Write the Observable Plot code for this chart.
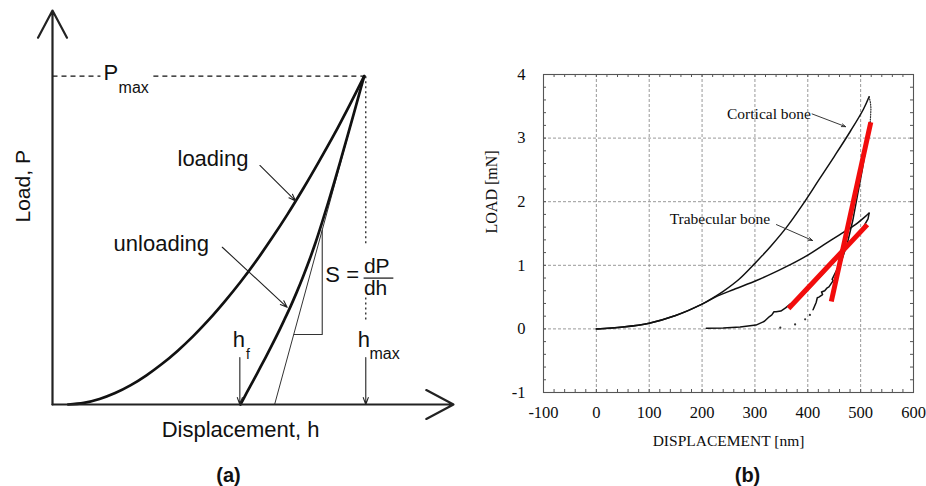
<!DOCTYPE html>
<html><head><meta charset="utf-8">
<script src="https://cdn.jsdelivr.net/npm/d3@7"></script>
<script src="https://cdn.jsdelivr.net/npm/@observablehq/plot@0.6"></script>
<style>
html,body{margin:0;padding:0;background:#fff;}
#fig{width:926px;height:486px;display:flex;background:#fff;}
#fig svg{display:block;overflow:visible;}
</style></head><body><div id="fig"></div>
<script>
// ---------- Panel (a): schematic load–displacement curve (arbitrary units, hmax = Pmax = 100)
const loadH = [5,10,15,20,25,30,35,40,45,50,55,60,65,70,75,80,85,90,95,99.5];
const loadP = [0,0.5,1.7,3.5,5.9,8.9,12.4,16.4,20.9,25.9,31.4,37.3,43.7,50.6,57.9,65.7,73.9,82.4,91.5,100];
const unloadH = [60,62,64,66,68,70,72,74,76,78,80,82,84,86,88,90,92,94,96,98,99.5];
const unloadP = [0,3.6,7.1,10.7,14.3,18,21.8,25.8,29.9,34.3,39,44,49.4,55.3,61.5,67.9,74.5,81.2,88,94.9,100];
const tangentH = [70.9, 99.5];
const tangentP = [0, 100];
const triangleH = [77.1, 86.1, 86.1];
const triangleP = [21.3, 21.3, 53.1];
const hf = 60, hmax = 100, Pmax = 100, hPeak = 99.5;

// ---------- Panel (b): nanoindentation of bone
const xTicks = [-100,0,100,200,300,400,500,600];
const yTicks = [-1,0,1,2,3,4];
const xMinor = d3.range(-100, 601, 20);
const yMinor = d3.range(-1, 4.001, 0.2);

const cortLoadX = [0,50,100,150,200,225,240,270,300,330,360,390,420,450,480,505,516];
const cortLoadY = [0,0.03,0.09,0.21,0.39,0.51,0.59,0.78,1.03,1.3,1.6,1.95,2.33,2.71,3.1,3.45,3.65];
const cortCreepX = [516,518.5,519.5,519,518.5,518];
const cortCreepY = [3.65,3.56,3.47,3.38,3.3,3.25];
const cortUnloadX = [518,511,503,494,485,475,463,452,446,448,440,436,432,426,428,421,418,416,414,410];
const cortUnloadY = [3.25,2.9,2.5,2.1,1.7,1.35,1.05,0.88,0.78,0.76,0.66,0.64,0.6,0.58,0.54,0.5,0.49,0.42,0.38,0.3];
const cortTailX = [404,395,376,348];
const cortTailY = [0.22,0.15,0.07,0.02];

const trabLoadX = [0,50,100,150,200,225,260,303,335,367,400,430,460,490,512,516];
const trabLoadY = [0,0.03,0.09,0.21,0.39,0.5,0.62,0.76,0.88,1.01,1.16,1.32,1.48,1.64,1.79,1.82];
const trabUnloadX = [516,514,505,490,470,450,430,410,390,375,365,358,349,340,336,332,327,318,302,272,240,208];
const trabUnloadY = [1.82,1.73,1.6,1.45,1.25,1.06,0.88,0.7,0.53,0.43,0.38,0.33,0.28,0.27,0.27,0.22,0.19,0.12,0.06,0.03,0.015,0.01];

const fitX1 = [363.6, 444.5], fitY1 = [0.32, 0.43];
const fitX2 = [512.6, 519.2], fitY2 = [1.64, 3.25];

const zip = (xs, ys) => xs.map((x, i) => ({x, y: ys[i]}));

// ================= Panel (a) =================
const sans = "'Liberation Sans', Arial, Helvetica, sans-serif";
const ink = "#111";
const plotA = Plot.plot({
  width: 470, height: 486,
  marginLeft: 52, marginRight: 17, marginTop: 10, marginBottom: 82,
  x: {domain: [0, 128], axis: null},
  y: {domain: [0, 120], axis: null},
  style: {fontFamily: sans, background: "white", color: ink},
  marks: [
    Plot.link([{x1: 0, y1: Pmax, x2: 15.3, y2: Pmax}, {x1: 32.2, y1: Pmax, x2: hPeak, y2: Pmax}],
      {x1: "x1", y1: "y1", x2: "x2", y2: "y2", stroke: ink, strokeWidth: 1.3, strokeDasharray: "5,4"}),
    Plot.link([{x1: hmax, y1: Pmax, x2: hmax, y2: 49}, {x1: hmax, y1: 32.6, x2: hmax, y2: 25}],
      {x1: "x1", y1: "y1", x2: "x2", y2: "y2", stroke: ink, strokeWidth: 1.2, strokeDasharray: "2,3"}),
    Plot.line(zip(tangentH, tangentP), {x: "x", y: "y", stroke: "#333", strokeWidth: 1}),
    Plot.line(zip(triangleH, triangleP), {x: "x", y: "y", stroke: "#333", strokeWidth: 1.1}),
    Plot.line(zip(loadH, loadP), {x: "x", y: "y", stroke: ink, strokeWidth: 2.7, curve: "catmull-rom"}),
    Plot.line(zip(unloadH, unloadP), {x: "x", y: "y", stroke: ink, strokeWidth: 2.7, curve: "catmull-rom"}),
    Plot.arrow([{x1: 0, y1: 0, x2: 128, y2: 0}, {x1: 0, y1: 0, x2: 0, y2: 120}],
      {x1: "x1", y1: "y1", x2: "x2", y2: "y2", stroke: "#222", strokeWidth: 2.2, headLength: 21, headAngle: 56}),
    Plot.arrow([
        {x1: hf - 0.2, y1: 14.3, x2: hf - 0.2, y2: 0},
        {x1: hmax, y1: 14.3, x2: hmax, y2: 0},
        {x1: 66.2, y1: 72.8, x2: 77.6, y2: 62.0},
        {x1: 54.2, y1: 47.9, x2: 74.9, y2: 29.6}
      ],
      {x1: "x1", y1: "y1", x2: "x2", y2: "y2", stroke: "#222", strokeWidth: 1.1, headLength: 10, headAngle: 40}),
    Plot.link([{x1: 99.3, y1: 38.5, x2: 108.8, y2: 38.5}], {x1: "x1", y1: "y1", x2: "x2", y2: "y2", stroke: ink, strokeWidth: 1.2}),
    Plot.text(["loading"], {x: 39.9, y: 72.5, textAnchor: "start", lineAnchor: "bottom", fontSize: 22, fill: ink}),
    Plot.text(["unloading"], {x: 19.5, y: 46.9, textAnchor: "start", lineAnchor: "bottom", fontSize: 22, fill: ink}),
    Plot.text(["P"], {x: 16.3, y: 98.7, textAnchor: "start", lineAnchor: "bottom", fontSize: 22, fill: ink}),
    Plot.text(["max"], {x: 21.1, y: 95, textAnchor: "start", lineAnchor: "bottom", fontSize: 16, fill: ink}),
    Plot.text(["S ="], {x: 87.1, y: 37.2, textAnchor: "start", lineAnchor: "bottom", fontSize: 22, fill: ink}),
    Plot.text(["dP"], {x: 99.4, y: 39.9, textAnchor: "start", lineAnchor: "bottom", fontSize: 21, fill: ink}),
    Plot.text(["dh"], {x: 99.4, y: 33.2, textAnchor: "start", lineAnchor: "bottom", fontSize: 21, fill: ink}),
    Plot.text(["h"], {x: 97.4, y: 17.4, textAnchor: "start", lineAnchor: "bottom", fontSize: 22, fill: ink}),
    Plot.text(["max"], {x: 101.2, y: 14.0, textAnchor: "start", lineAnchor: "bottom", fontSize: 16, fill: ink}),
    Plot.text(["h"], {x: 57.5, y: 17.4, textAnchor: "start", lineAnchor: "bottom", fontSize: 22, fill: ink}),
    Plot.text(["f"], {x: 61.8, y: 14.0, textAnchor: "start", lineAnchor: "bottom", fontSize: 14, fill: ink}),
    Plot.text(["Load, P"], {frameAnchor: "left", dx: -29, dy: 15, rotate: -90, lineAnchor: "middle", fontSize: 21, fill: ink}),
    Plot.text(["Displacement, h"], {frameAnchor: "bottom", dx: -12.5, dy: 32, lineAnchor: "bottom", fontSize: 22, fill: ink}),
    Plot.text(["(a)"], {frameAnchor: "bottom", dx: -24.5, dy: 71, lineAnchor: "middle", fontSize: 20, fontWeight: "bold", fill: ink})
  ]
});

// ================= Panel (b) =================
const serif = "'Liberation Serif', 'Times New Roman', Times, serif";
const fw = 913 - 543, fh = 392 - 74;
const txt = "#0d0d0d";
const plotB = Plot.plot({
  width: 456, height: 486,
  marginLeft: 73, marginRight: 13, marginTop: 74, marginBottom: 94,
  x: {domain: [-100, 600]},
  y: {domain: [-1, 4]},
  style: {fontFamily: serif, background: "white", color: "#222"},
  marks: [
    Plot.gridX(xTicks, {stroke: "#999", strokeOpacity: 1, strokeDasharray: "3,2"}),
    Plot.gridY(yTicks, {stroke: "#999", strokeOpacity: 1, strokeDasharray: "3,2"}),
    Plot.tickX(xMinor, {x: d => d, insetTop: fh - 3, stroke: "#555"}),
    Plot.tickX(xMinor, {x: d => d, insetBottom: fh - 3, stroke: "#555"}),
    Plot.tickY(yMinor, {y: d => d, insetRight: fw - 3, stroke: "#555"}),
    Plot.tickY(yMinor, {y: d => d, insetLeft: fw - 3, stroke: "#555"}),
    Plot.frame({stroke: "#555", strokeWidth: 1.1}),
    Plot.axisX(xTicks, {tickSize: 0, tickPadding: 14, tickFormat: d => String(d), fontSize: 16.5, fill: txt}),
    Plot.axisY(yTicks, {tickSize: 0, tickPadding: 18, tickFormat: d => String(d), fontSize: 16.5, fill: txt}),
    Plot.line(zip(cortLoadX, cortLoadY), {x: "x", y: "y", stroke: "#111", strokeWidth: 1.5, curve: "catmull-rom"}),
    Plot.line(zip(trabLoadX, trabLoadY), {x: "x", y: "y", stroke: "#111", strokeWidth: 1.5, curve: "catmull-rom"}),
    Plot.line(zip(cortCreepX, cortCreepY), {x: "x", y: "y", stroke: "#333", strokeWidth: 1.2, strokeDasharray: "1,1.5"}),
    Plot.line(zip(cortUnloadX, cortUnloadY), {x: "x", y: "y", stroke: "#111", strokeWidth: 1.5}),
    Plot.line(zip(trabUnloadX, trabUnloadY), {x: "x", y: "y", stroke: "#111", strokeWidth: 1.5}),
    Plot.dot(zip(cortTailX, cortTailY), {x: "x", y: "y", r: 1.1, fill: "#333", stroke: "none"}),
    Plot.link([0, 1], {x1: i => fitX1[i], y1: i => fitY1[i], x2: i => fitX2[i], y2: i => fitY2[i], stroke: "#f20c0c", strokeWidth: 5}),
    Plot.text(["Cortical bone"], {x: 406, y: 3.30, textAnchor: "end", lineAnchor: "bottom", fontSize: 15.5, fill: txt}),
    Plot.text(["Trabecular bone"], {x: 328.9, y: 1.65, textAnchor: "end", lineAnchor: "bottom", fontSize: 15.5, fill: txt}),
    Plot.arrow([{x1: 408.2, y1: 3.38, x2: 471.5, y2: 3.18}, {x1: 340.7, y1: 1.64, x2: 409, y2: 1.39}],
      {x1: "x1", y1: "y1", x2: "x2", y2: "y2", stroke: "#222", strokeWidth: 0.9, headLength: 7, headAngle: 40}),
    Plot.text(["DISPLACEMENT [nm]"], {frameAnchor: "bottom", dy: 53, lineAnchor: "bottom", fontSize: 15.5, fill: txt}),
    Plot.text(["LOAD [mN]"], {frameAnchor: "left", dx: -52, rotate: -90, lineAnchor: "middle", fontSize: 16, fill: txt}),
    Plot.text(["(b)"], {frameAnchor: "bottom", dx: 19, dy: 83, lineAnchor: "middle", fontSize: 20, fontWeight: "bold", fontFamily: sans, fill: "#111"})
  ]
});

const fig = document.getElementById("fig");
fig.appendChild(plotA);
fig.appendChild(plotB);
</script>
</body></html>
